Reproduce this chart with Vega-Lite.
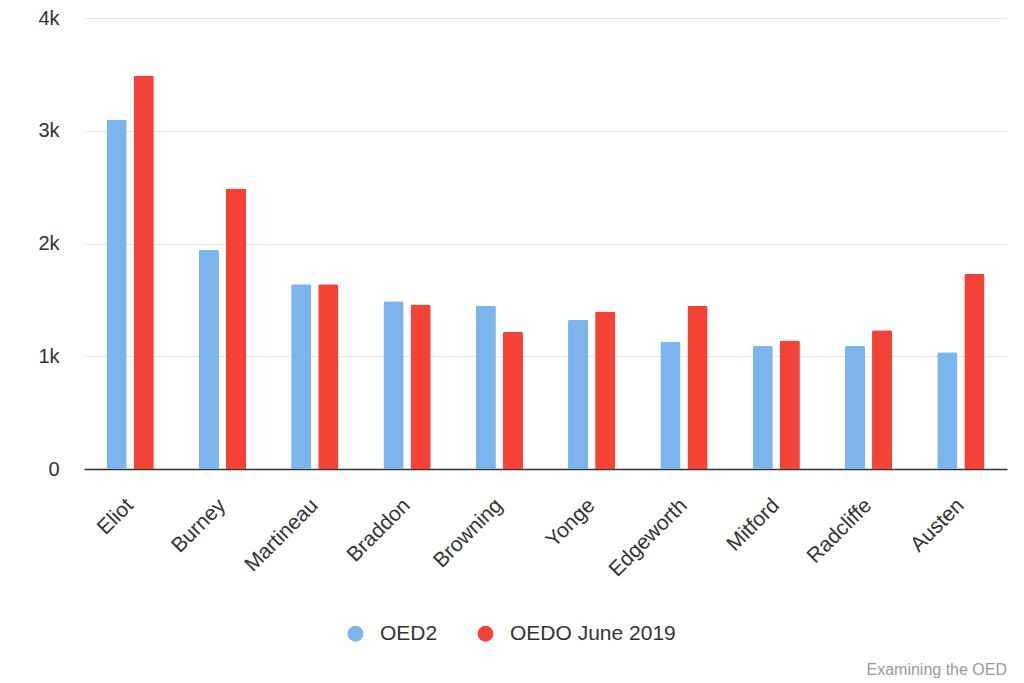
{
  "$schema": "https://vega.github.io/schema/vega-lite/v6.json",
  "width": 923,
  "height": 451,
  "padding": {"left": 37, "top": 8, "right": 16, "bottom": 3},
  "background": "white",
  "data": {
    "values": [
      {"author": "Eliot", "edition": "OED2", "count": 3100},
      {"author": "Eliot", "edition": "OEDO June 2019", "count": 3490},
      {"author": "Burney", "edition": "OED2", "count": 1944},
      {"author": "Burney", "edition": "OEDO June 2019", "count": 2488},
      {"author": "Martineau", "edition": "OED2", "count": 1639},
      {"author": "Martineau", "edition": "OEDO June 2019", "count": 1639},
      {"author": "Braddon", "edition": "OED2", "count": 1488},
      {"author": "Braddon", "edition": "OEDO June 2019", "count": 1458},
      {"author": "Browning", "edition": "OED2", "count": 1447},
      {"author": "Browning", "edition": "OEDO June 2019", "count": 1216},
      {"author": "Yonge", "edition": "OED2", "count": 1323},
      {"author": "Yonge", "edition": "OEDO June 2019", "count": 1396},
      {"author": "Edgeworth", "edition": "OED2", "count": 1127},
      {"author": "Edgeworth", "edition": "OEDO June 2019", "count": 1447},
      {"author": "Mitford", "edition": "OED2", "count": 1092},
      {"author": "Mitford", "edition": "OEDO June 2019", "count": 1139},
      {"author": "Radcliffe", "edition": "OED2", "count": 1092},
      {"author": "Radcliffe", "edition": "OEDO June 2019", "count": 1231},
      {"author": "Austen", "edition": "OED2", "count": 1035},
      {"author": "Austen", "edition": "OEDO June 2019", "count": 1731}
    ]
  },
  "mark": {"type": "bar", "cornerRadiusTopLeft": 2, "cornerRadiusTopRight": 2},
  "encoding": {
    "x": {
      "field": "author",
      "type": "nominal",
      "sort": ["Eliot", "Burney", "Martineau", "Braddon", "Browning", "Yonge", "Edgeworth", "Mitford", "Radcliffe", "Austen"],
      "scale": {"paddingInner": 0.488, "paddingOuter": 0.244},
      "axis": {
        "title": null,
        "ticks": false,
        "domainColor": "#333333",
        "domainWidth": 1.5,
        "labelAngle": -45,
        "labelAlign": "right",
        "labelBaseline": "middle",
        "labelFontSize": 21,
        "labelColor": "#333333",
        "labelPadding": 33,
        "grid": false
      }
    },
    "xOffset": {
      "field": "edition",
      "type": "nominal",
      "sort": ["OED2", "OEDO June 2019"],
      "scale": {"paddingInner": 0.256, "paddingOuter": 0}
    },
    "y": {
      "field": "count",
      "type": "quantitative",
      "scale": {"domain": [0, 4000]},
      "axis": {
        "title": null,
        "values": [0, 1000, 2000, 3000, 4000],
        "labelExpr": "datum.value == 0 ? '0' : (datum.value / 1000) + 'k'",
        "domain": false,
        "ticks": false,
        "grid": true,
        "gridColor": "#e6e6e6",
        "gridWidth": 1,
        "labelFontSize": 20,
        "labelColor": "#333333",
        "labelPadding": 25
      }
    },
    "color": {
      "field": "edition",
      "type": "nominal",
      "scale": {"domain": ["OED2", "OEDO June 2019"], "range": ["#7cb5ec", "#f44336"]},
      "legend": {
        "title": null,
        "orient": "none",
        "legendX": 261,
        "legendY": 605,
        "direction": "horizontal",
        "symbolType": "circle",
        "symbolSize": 250,
        "symbolStrokeWidth": 0,
        "labelFontSize": 21,
        "labelColor": "#333333",
        "labelLimit": 400,
        "labelOffset": 14,
        "columnPadding": 37
      }
    }
  },
  "title": {
    "text": "Examining the OED",
    "orient": "bottom",
    "anchor": "end",
    "fontSize": 16,
    "fontWeight": "normal",
    "color": "#999999",
    "offset": 18
  },
  "config": {"view": {"stroke": null}, "font": "Liberation Sans"}
}
